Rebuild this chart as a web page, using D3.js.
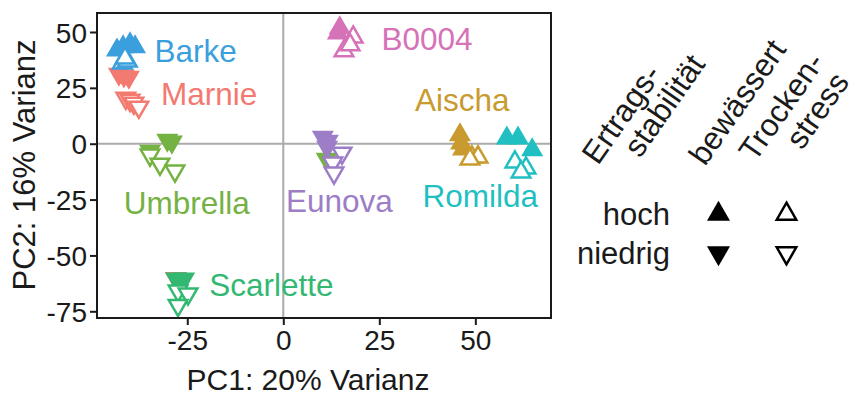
<!DOCTYPE html>
<html>
<head>
<meta charset="utf-8">
<script src="https://cdn.jsdelivr.net/npm/d3@7"></script>
<style>
body { margin: 0; background: #fff; }
text { font-family: "Liberation Sans", Arial, sans-serif; fill: #1a1a1a; }
</style>
</head>
<body>
<svg id="chart"></svg>
<script>
// Sorten und Farben
const sorten = ["Barke", "Marnie", "Umbrella", "Scarlette", "B0004", "Eunova", "Aischa", "Romilda"];
const farben = ["#3a9fdc", "#f37a70", "#74b243", "#33b872", "#d672b7", "#9d7dc6", "#c99a2e", "#1fbfc2"];
const stabilitaet = ["hoch", "niedrig", "niedrig", "niedrig", "hoch", "niedrig", "hoch", "hoch"];

// bewässert (gefüllt)
const bewSorte = ["Barke", "Barke", "Barke", "Barke", "Marnie", "Marnie", "Marnie", "Marnie",
    "Umbrella", "Umbrella", "Umbrella", "Umbrella", "Scarlette", "Scarlette", "Scarlette",
    "B0004", "B0004", "Eunova", "Eunova", "Eunova", "Aischa", "Aischa", "Aischa",
    "Romilda", "Romilda", "Romilda"];
const bewPC1 = [-43.3, -41.7, -39.9, -38.6, -28.0, -42.8, -41.5, -40.2,
    -34.7, -30.2, -29.0, 11.3, -27.9, -25.8, -26.9,
    14.7, 14.2, 10.3, 11.6, 11.4, 46.0, 46.3, 46.8,
    58.2, 61.1, 64.8];
const bewPC2 = [41.9, 43.3, 44.6, 43.3, -60.3, 31.2, 30.4, 29.8,
    -3.3, 1.6, 0.8, -6.9, -60.5, -60.5, -62.8,
    51.8, 49.5, 3.0, 1.2, -1.5, 3.9, 0.3, -2.4,
    2.5, 2.5, -2.8];

// Trockenstress (offen)
const trockSorte = ["Barke", "Barke", "Barke", "Marnie", "Marnie", "Marnie", "Marnie",
    "Umbrella", "Umbrella", "Umbrella", "Scarlette", "Scarlette", "Scarlette",
    "B0004", "B0004", "B0004", "Eunova", "Eunova", "Eunova", "Aischa", "Aischa", "Aischa",
    "Romilda", "Romilda", "Romilda"];
const trockPC1 = [-41.9, -40.6, -41.2, -41.0, -39.9, -38.9, -37.6,
    -34.7, -32.1, -28.2, -27.4, -24.8, -27.4,
    15.8, 18.2, 17.4, 15.3, 12.9, 13.2, 49.1, 50.7, 48.6,
    60.3, 63.2, 61.9];
const trockPC2 = [36.1, 37.0, 38.3, 20.4, 19.5, 18.2, 16.4,
    -5.0, -9.1, -12.2, -65.9, -67.2, -72.3,
    41.5, 47.7, 44.2, -4.2, -8.6, -13.1, -6.0, -6.0, -6.9,
    -8.2, -10.9, -12.7];

// Beschriftungen der Sorten (Mitte, in Datenkoordinaten)
const labelPC1 = [-22.8, -19.3, -25.1, -3.1, 37.4, 14.6, 46.6, 51.3];
const labelPC2 = [41.5, 22.6, -26.2, -62.9, 46.8, -25.3, 19.9, -23.1];

const xTicks = [-25, 0, 25, 50];
const yTicks = [50, 25, 0, -25, -50, -75];

const W = 855, H = 398;
const pLeft = 97, pRight = 551, pTop = 13, pBottom = 318;

const svg = d3.select("#chart").attr("width", W).attr("height", H);

const x = d3.scaleLinear().domain([-48.5, 69.7]).range([pLeft, pRight]);
const y = d3.scaleLinear().domain([-78, 58.5]).range([pBottom, pTop]);

const farbe = d3.scaleOrdinal().domain(sorten).range(farben);
const stab = d3.scaleOrdinal().domain(sorten).range(stabilitaet);

// Nulllinien
svg.append("line").attr("x1", x(0)).attr("x2", x(0)).attr("y1", pTop).attr("y2", pBottom)
    .attr("stroke", "#aaa").attr("stroke-width", 2);
svg.append("line").attr("x1", pLeft).attr("x2", pRight).attr("y1", y(0)).attr("y2", y(0))
    .attr("stroke", "#aaa").attr("stroke-width", 2);

// Achsen (Bindestrich statt Minuszeichen wie im Original)
const fmt = d => String(d);
const xAxis = svg.append("g")
    .attr("transform", `translate(0, ${pBottom})`)
    .call(d3.axisBottom(x).tickValues(xTicks).tickFormat(fmt).tickSize(7).tickPadding(5).tickSizeOuter(0));
const yAxis = svg.append("g")
    .attr("transform", `translate(${pLeft}, 0)`)
    .call(d3.axisLeft(y).tickValues(yTicks).tickFormat(fmt).tickSize(7).tickPadding(3).tickSizeOuter(0));
[xAxis, yAxis].forEach(a => {
    a.select(".domain").remove();
    a.selectAll(".tick line").attr("stroke", "#1a1a1a").attr("stroke-width", 2);
    a.selectAll(".tick text").attr("font-size", 28).attr("fill", "#1a1a1a")
        .style("font-family", '"Liberation Sans", Arial, sans-serif');
});
yAxis.selectAll(".tick text").attr("dy", "0.36em");

const tri = d3.symbol().type(d3.symbolTriangle);

function marke(sel, pc1, pc2, sorte, gefuellt) {
    sel.selectAll(null)
        .data(d3.range(pc1.length))
        .enter()
        .append("path")
        .attr("d", tri.size(gefuellt ? 210 : 150)())
        .attr("transform", i => `translate(${x(pc1[i])}, ${y(pc2[i])})` +
            (stab(sorte[i]) === "niedrig" ? " rotate(180)" : ""))
        .attr("fill", i => gefuellt ? farbe(sorte[i]) : "#fff")
        .attr("stroke", i => gefuellt ? "none" : farbe(sorte[i]))
        .attr("stroke-width", 2.5);
}

const punkte = svg.append("g");
marke(punkte, bewPC1, bewPC2, bewSorte, true);
marke(punkte, trockPC1, trockPC2, trockSorte, false);

// Sortennamen
svg.append("g").selectAll("text")
    .data(sorten)
    .enter()
    .append("text")
    .attr("x", (d, i) => x(labelPC1[i]))
    .attr("y", (d, i) => y(labelPC2[i]))
    .attr("dy", "0.36em")
    .attr("text-anchor", "middle")
    .attr("font-size", 31.5)
    .style("fill", d => farbe(d))
    .text(d => d);

// Rahmen
svg.append("rect").attr("x", pLeft).attr("y", pTop)
    .attr("width", pRight - pLeft).attr("height", pBottom - pTop)
    .attr("fill", "none").attr("stroke", "#1a1a1a").attr("stroke-width", 2);

// Achsentitel
svg.append("text").attr("x", 308).attr("y", 390).attr("text-anchor", "middle")
    .attr("font-size", 30).text("PC1: 20% Varianz");
svg.append("text").attr("transform", "translate(35, 165) rotate(-90)")
    .attr("text-anchor", "middle").attr("font-size", 31).text("PC2: 16% Varianz");

// Legende
const kopf = [["Ertrags-", 598, 166], ["stabilität", 640, 159], ["bewässert", 705, 167],
    ["Trocken-", 755, 163], ["stress", 802, 151]];
svg.append("g").selectAll("text")
    .data(kopf)
    .enter()
    .append("text")
    .attr("transform", d => `translate(${d[1]}, ${d[2]}) rotate(-55)`)
    .attr("font-size", 31.5)
    .text(d => d[0]);

const zeilen = ["hoch", "niedrig"];
const zeileY = [214, 253];
svg.append("g").selectAll("text")
    .data(zeilen)
    .enter()
    .append("text")
    .attr("x", 670)
    .attr("y", (d, i) => zeileY[i])
    .attr("dy", "0.36em")
    .attr("text-anchor", "end")
    .attr("font-size", 31)
    .text(d => d);

const spalteX = [718.5, 786.5];
zeilen.forEach((z, r) => {
    spalteX.forEach((sx, c) => {
        svg.append("path")
            .attr("d", tri.size(c === 0 ? 230 : 165)())
            .attr("transform", `translate(${sx}, ${zeileY[r]})` + (r === 1 ? " rotate(180)" : ""))
            .attr("fill", c === 0 ? "#000" : "#fff")
            .attr("stroke", c === 0 ? "none" : "#000")
            .attr("stroke-width", 2.5);
    });
});
</script>
</body>
</html>
